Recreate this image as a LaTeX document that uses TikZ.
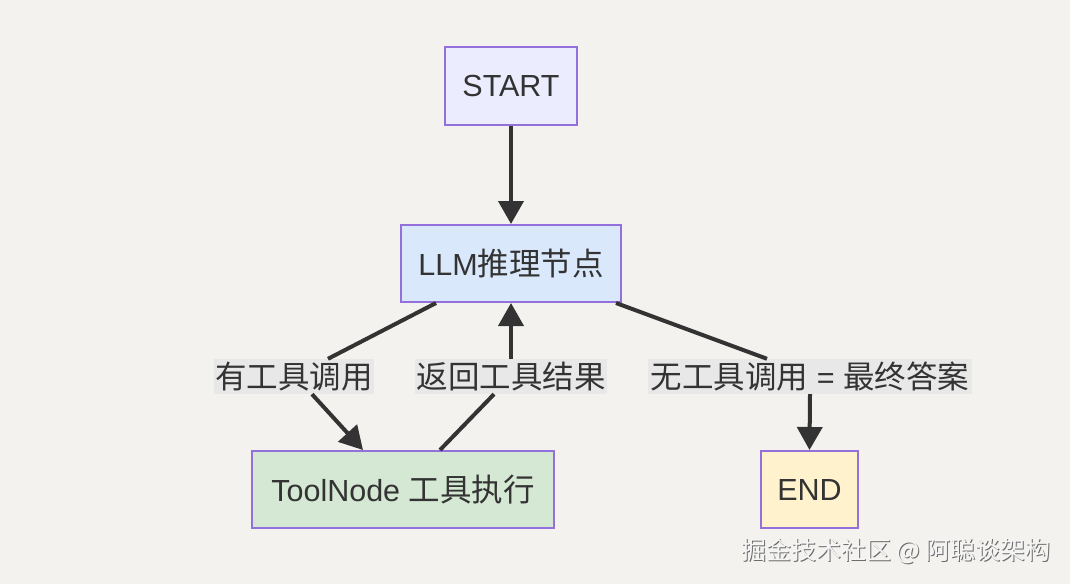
\documentclass[tikz,border=0pt]{standalone}
\usepackage{fontspec}
\setmainfont{Liberation Sans}
\newfontfamily\cjk{Noto Sans CJK SC}
\usetikzlibrary{arrows.meta}
\definecolor{bg}{HTML}{F3F2EF}
\definecolor{nodeborder}{HTML}{9370DB}
\definecolor{startfill}{HTML}{ECECFF}
\definecolor{llmfill}{HTML}{DAE8FC}
\definecolor{toolfill}{HTML}{D5E8D4}
\definecolor{endfill}{HTML}{FFF2CC}
\definecolor{edgecol}{HTML}{333333}
\definecolor{labelfill}{HTML}{E8E8E8}
\definecolor{txt}{HTML}{333333}
\newcommand{\cj}[1]{{\cjk\fontsize{31.5}{34}\selectfont #1}}
\tikzset{
  box/.style={draw=nodeborder, line width=2pt, inner sep=0pt, text=txt, anchor=center},
  elabel/.style={fill=labelfill, inner xsep=1pt, inner ysep=0pt, minimum height=35pt, text=txt, anchor=center},
  edge/.style={draw=edgecol, line width=4pt},
  arr/.style={edge, -{Triangle[length=23pt,width=25pt]}},
}
\begin{document}
\begin{tikzpicture}[x=1pt,y=-1pt, font=\fontsize{30.5}{33}\selectfont]
\fill[bg] (0,0) rectangle (1070,584);
\useasboundingbox (0,0) rectangle (1070,584);

\node[box, fill=startfill, minimum width=132pt, minimum height=78pt] (start) at (511,86) {START};
\node[box, fill=llmfill, minimum width=220pt, minimum height=77pt] (llm) at (511,263.5) {LLM\cj{推理节点}};
\node[box, fill=toolfill, minimum width=302pt, minimum height=77pt] (tool) at (403,489.5) {ToolNode \cj{工具执行}};
\node[box, fill=endfill, minimum width=97pt, minimum height=77pt] (end) at (809.5,489.5) {END};

\node[elabel, minimum width=158pt] (l1) at (294,376.5) {\cj{有工具调用}};
\node[elabel, minimum width=192pt] (l2) at (511,376.5) {\cj{返回工具结果}};
\node[elabel, minimum width=324pt] (l3) at (810,376.5) {\cj{无工具调用} = \cj{最终答案}};

\draw[arr] (start.south) -- (llm.north);

\draw[edge] ([xshift=-75pt]llm.south) -- ([xshift=34pt]l1.north);
\draw[arr] ([xshift=18pt]l1.south) -- ([xshift=-40pt]tool.north);

\draw[edge] ([xshift=37pt]tool.north) -- ([xshift=-17pt]l2.south);
\draw[arr] (l2.north) -- (llm.south);

\draw[edge] ([xshift=105pt]llm.south) -- ([xshift=-43pt]l3.north);
\draw[arr] (l3.south) -- (end.north);

\node[text=gray!85!black, font=\cjk\fontsize{25}{28}\selectfont, anchor=center] (wmshadow) at (897,552) {掘金技术社区 @ 阿聪谈架构};
\node[text=white!92!gray, font=\cjk\fontsize{25}{28}\selectfont, anchor=center] (wm) at (896,551) {掘金技术社区 @ 阿聪谈架构};
\end{tikzpicture}
\end{document}
